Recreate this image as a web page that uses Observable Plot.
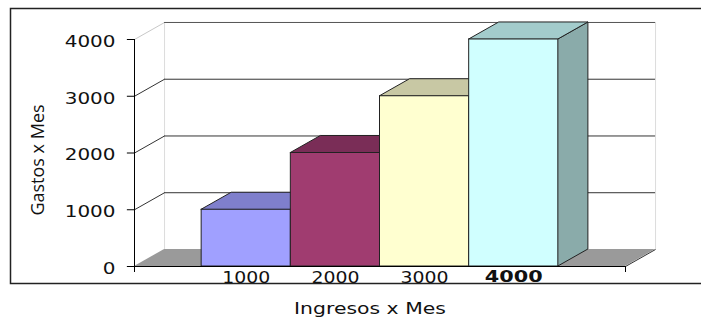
<!DOCTYPE html>
<html><head><meta charset="utf-8">
<script src="https://cdn.jsdelivr.net/npm/d3@7"></script>
<script src="https://cdn.jsdelivr.net/npm/@observablehq/plot@0.6"></script>
<style>body{margin:0;background:#fff;} svg{display:block}</style>
</head><body><div id="chart"></div>
<script>
// ---- data ----
const categories = ["1000", "2000", "3000", "4000"];   // Ingresos x Mes
const gastos = [1000, 2000, 3000, 4000];               // Gastos x Mes
const yTicks = [0, 1000, 2000, 3000, 4000];
const boldCategory = "4000";
const xTitle = "Ingresos x Mes";
const yTitle = "Gastos x Mes";

// ---- styles ----
const frontColors = ["#a0a0ff", "#a03c70", "#ffffd0", "#d0ffff"];
const topColors   = ["#7f7fcc", "#7a2d57", "#c8c8a4", "#a3cccc"];
const sideColors  = ["#6f6fb0", "#6a2448", "#b0b090", "#8aabaa"];

const PAD = 0.753;   // outer padding in category units
const DX = 0.337;    // 3D depth, category units
const DY = 300;      // 3D depth, value units
const n = categories.length;
const X0 = -PAD, X1 = n + PAD;
const YMAX = d3.max(yTicks);
const TICK_X = 0.08, TICK_Y = 106;
const k = v => () => v;

const bars = categories.map((c, i) => ({c, i, v: gastos[i]}));
const fronts = bars.map(b => ({x1: b.i, x2: b.i + 1, y1: 0, y2: b.v, fill: frontColors[b.i]}));
const tops = bars.flatMap(b => [
  {bar: b.i, y: b.v, x1: b.i, x2: b.i + 1, fill: topColors[b.i]},
  {bar: b.i, y: b.v + DY, x1: b.i + DX, x2: b.i + 1 + DX, fill: topColors[b.i]}
]);
const sides = bars.flatMap(b => [
  {bar: b.i, x: b.i + 1, y1: 0, y2: b.v, fill: sideColors[b.i]},
  {bar: b.i, x: b.i + 1 + DX, y1: DY, y2: b.v + DY, fill: sideColors[b.i]}
]);
const floor = [{y: 0, x1: X0, x2: X1}, {y: DY, x1: X0 + DX, x2: X1 + DX}];
const grid = yTicks.filter(t => t > 0);
const gridColor = d => d === YMAX ? "#c8c8c8" : "#333";
const backColor = d => d === YMAX ? "#555" : "#333";

const chart = Plot.plot({
  width: 701, height: 318,
  marginTop: 8, marginLeft: 10, marginRight: 0, marginBottom: 35,
  x: {type: "linear", domain: [X0, X1], range: [134, 625], axis: null},
  y: {type: "linear", domain: [0, YMAX], range: [266, 39], axis: null},
  color: {type: "identity"},
  style: {fontFamily: "DejaVu Sans", background: "white", overflow: "visible", color: "#111"},
  marks: [
    // floor
    Plot.areaX(floor, {y: "y", x1: "x1", x2: "x2", fill: "#9a9a9a"}),
    // back wall edges
    Plot.ruleX([X0 + DX, X1 + DX], {x: d => d, y1: k(DY), y2: k(YMAX + DY), stroke: "#dcdcdc"}),
    // gridlines: diagonal + back wall
    Plot.link(grid, {x1: k(X0), y1: d => d, x2: k(X0 + DX), y2: d => d + DY, stroke: gridColor}),
    Plot.ruleY(grid, {y: d => d + DY, x1: k(X0 + DX), x2: k(X1 + DX), stroke: backColor}),
    // floor right edge
    Plot.link([0], {x1: k(X1), y1: k(0), x2: k(X1 + DX), y2: k(DY), stroke: "#333"}),
    // bars
    Plot.areaY(sides, {x: "x", y1: "y1", y2: "y2", z: "bar", fill: "fill", stroke: "#222"}),
    Plot.areaX(tops, {y: "y", x1: "x1", x2: "x2", z: "bar", fill: "fill", stroke: "#222"}),
    Plot.rect(fronts, {x1: "x1", x2: "x2", y1: "y1", y2: "y2", fill: "fill", stroke: "#222"}),
    // axes
    Plot.ruleY([0], {y: d => d, x1: k(X0), x2: k(X1), stroke: "#000"}),
    Plot.ruleX([X0], {x: d => d, y1: k(-TICK_Y), y2: k(YMAX), stroke: "#000"}),
    Plot.ruleX([X1], {x: d => d, y1: k(-TICK_Y), y2: k(0), stroke: "#000"}),
    Plot.ruleY(yTicks, {y: d => d, x1: k(X0 - TICK_X), x2: k(X0), stroke: "#000"}),
    // texts
    Plot.text(yTicks, {x: k(X0), y: d => d, text: d => String(d), textAnchor: "end", dx: -19, dy: 2, fontSize: 16.5, fill: "#111"}),
    Plot.text(bars.filter(b => b.c !== boldCategory), {x: b => b.i + 0.5, y: k(0), text: "c", lineAnchor: "bottom", dy: 16, fontSize: 16, fill: "#111"}),
    Plot.text(bars.filter(b => b.c === boldCategory), {x: b => b.i + 0.5, y: k(0), text: "c", lineAnchor: "bottom", dy: 15, fontSize: 16, fontWeight: "bold", fill: "#111"}),
    Plot.text([xTitle], {frameAnchor: "bottom", text: d => d, textAnchor: "middle", lineAnchor: "bottom", dy: 30, dx: 14, fontSize: 15, fill: "#111"}),
    Plot.text([yTitle], {frameAnchor: "left", text: d => d, rotate: -90, textAnchor: "middle", lineAnchor: "middle", dx: 28, dy: 14, fontSize: 18, fontFamily: "Open Sans", fill: "#111"}),
    // outer border
    Plot.frame({stroke: "#222", strokeWidth: 1.5, insetRight: -6})
  ]
});
document.getElementById("chart").appendChild(chart);

// horizontal stretch of the texts, matching the wide lettering of the original
const stretch = [1.21, 1.18, 1.3, 1.36, 1.0];
chart.querySelectorAll('g[aria-label="text"]').forEach((g, j) => {
  const s = stretch[j] ?? 1;
  g.querySelectorAll("text").forEach(t => {
    const x = (parseFloat(t.getAttribute("x")) || 0) + (parseFloat(t.getAttribute("dx")) || 0);
    const y = parseFloat(t.getAttribute("y")) || 0;
    const tr = t.getAttribute("transform") || "";
    t.setAttribute("transform", `${tr} translate(${x},${y}) scale(${s},1) translate(${-x},${-y})`);
  });
});
</script>
</body></html>
